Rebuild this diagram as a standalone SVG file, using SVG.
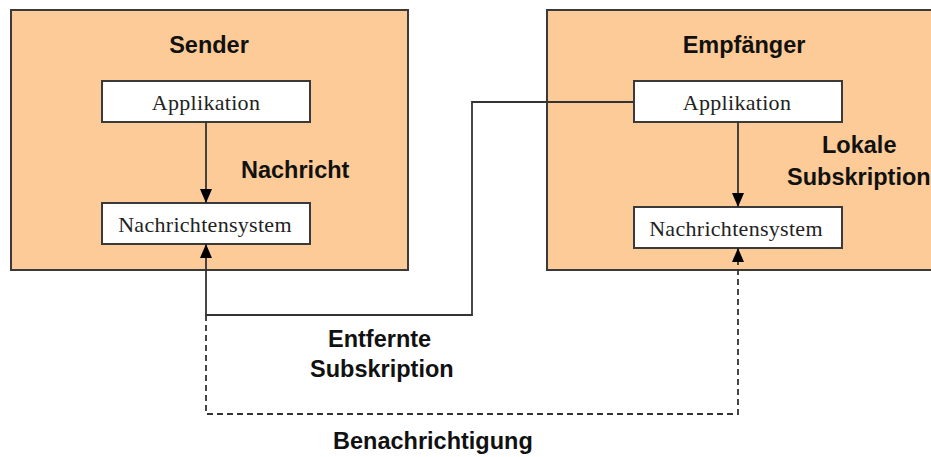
<svg xmlns="http://www.w3.org/2000/svg" width="931" height="457" viewBox="0 0 931 457">
  <style>
    .host { fill: #FDCB97; stroke: #3a3a3a; stroke-width: 2; }
    .comp { fill: #ffffff; stroke: #3a3a3a; stroke-width: 2; }
    .title { font-family: "Liberation Sans", Arial, sans-serif; font-size: 23.5px; font-weight: bold; fill: #111; }
    .comp-label { font-family: "Liberation Serif", "Times New Roman", serif; font-size: 22px; letter-spacing: 0.3px; fill: #222; text-anchor: middle; }
    .link { fill: none; stroke: #333; stroke-width: 1.8; }
    .dashed { stroke-dasharray: 6 4; }
  </style>
  <defs>
    <marker id="arrow" viewBox="0 0 14 12" refX="14" refY="6" markerWidth="14" markerHeight="12" markerUnits="userSpaceOnUse" orient="auto">
      <path d="M0,0 L14,6 L0,12 Z" fill="#000"/>
    </marker>
  </defs>

  <!-- Sender host -->
  <g id="sender">
    <rect class="host" x="11" y="10" width="397" height="260"/>
    <text class="title" x="209" y="53" text-anchor="middle">Sender</text>
  </g>
  <g id="sender-app">
    <rect class="comp" x="102" y="81" width="208" height="41"/>
    <text class="comp-label" x="206" y="110">Applikation</text>
  </g>
  <g id="sender-mq">
    <rect class="comp" x="102" y="203" width="208" height="41"/>
    <text class="comp-label" x="205" y="232">Nachrichtensystem</text>
  </g>

  <!-- Receiver host (runs past the right edge) -->
  <g id="receiver">
    <rect class="host" x="547" y="10" width="400" height="260"/>
    <text class="title" x="744" y="53" text-anchor="middle">Empfänger</text>
  </g>
  <g id="receiver-app">
    <rect class="comp" x="634" y="81" width="208" height="41"/>
    <text class="comp-label" x="737" y="110">Applikation</text>
  </g>
  <g id="receiver-mq">
    <rect class="comp" x="634" y="207" width="208" height="41"/>
    <text class="comp-label" x="736" y="236">Nachrichtensystem</text>
  </g>

  <!-- Connectors -->
  <g id="connectors">
    <path class="link" d="M206,122 V203" marker-end="url(#arrow)"/>
    <path class="link" d="M738,122 V207" marker-end="url(#arrow)"/>
    <path class="link" d="M634,102 H472 V315 H206 V244" marker-end="url(#arrow)"/>
    <path class="link dashed" d="M206,315 V414 H738 V248" marker-end="url(#arrow)"/>
  </g>

  <!-- Connector labels -->
  <g id="labels">
    <text class="title" x="241" y="178">Nachricht</text>
    <text class="title" x="822" y="153">Lokale</text>
    <text class="title" x="787" y="185">Subskription</text>
    <text class="title" x="328" y="347">Entfernte</text>
    <text class="title" x="310" y="377">Subskription</text>
    <text class="title" x="333" y="449">Benachrichtigung</text>
  </g>
</svg>
